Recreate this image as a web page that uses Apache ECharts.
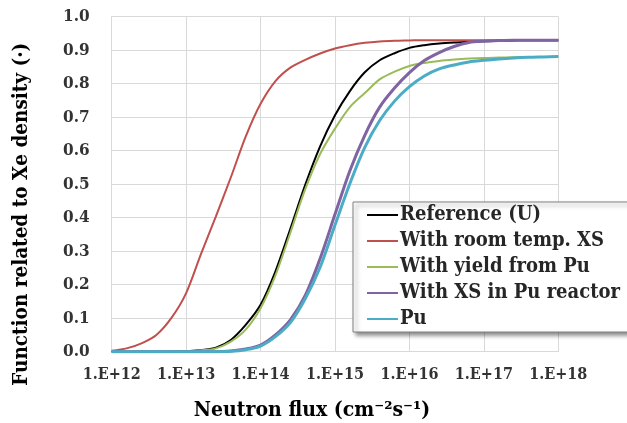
<!DOCTYPE html>
<html>
<head>
<meta charset="utf-8">
<script src="https://cdn.jsdelivr.net/npm/echarts@6/dist/echarts.min.js"></script>
<style>html,body{margin:0;padding:0;background:#fff}#c{width:627px;height:423px}</style>
</head>
<body>
<div id="c"></div>
<script>
// Neutron flux (cm^-2 s^-1), 0.2-decade steps from 1E+12 to 1E+18
const flux = [1e12,1.585e12,2.512e12,3.981e12,6.310e12,
  1e13,1.585e13,2.512e13,3.981e13,6.310e13,
  1e14,1.585e14,2.512e14,3.981e14,6.310e14,
  1e15,1.585e15,2.512e15,3.981e15,6.310e15,
  1e16,1.585e16,2.512e16,3.981e16,6.310e16,
  1e17,1.585e17,2.512e17,3.981e17,6.310e17,1e18];
const seriesNames = ['Reference (U)','With room temp. XS','With yield from Pu','With XS in Pu reactor','Pu'];
const refU = [0,0,0,0,0, 0.001,0.005,0.012,0.035,0.080, 0.140,0.240,0.367,0.498,0.613,
  0.706,0.778,0.834,0.870,0.891, 0.907,0.915,0.920,0.923,0.925, 0.927,0.928,0.929,0.930,0.930,0.930];
const roomXS = [0.003,0.010,0.025,0.050,0.100, 0.175,0.292,0.404,0.520,0.642, 0.740,0.808,0.848,0.871,0.890,
  0.905,0.915,0.922,0.926,0.928, 0.929,0.930,0.930,0.930,0.930, 0.930,0.930,0.930,0.930,0.930,0.930];
const yieldPu = [0,0,0,0,0, 0.001,0.004,0.010,0.030,0.066, 0.130,0.228,0.355,0.485,0.590,
  0.666,0.730,0.772,0.813,0.836, 0.853,0.862,0.868,0.872,0.875, 0.877,0.878,0.879,0.880,0.880,0.880];
const xsPuReactor = [0,0,0,0,0, 0,0,0,0.002,0.008, 0.020,0.050,0.095,0.168,0.278,
  0.410,0.540,0.646,0.730,0.787, 0.833,0.869,0.893,0.911,0.923, 0.927,0.929,0.930,0.930,0.930,0.930];
const pu = [0,0,0,0,0, 0,0,0,0.001,0.006, 0.017,0.045,0.087,0.158,0.252,
  0.378,0.502,0.610,0.690,0.748, 0.791,0.823,0.844,0.856,0.865, 0.870,0.874,0.877,0.879,0.880,0.881];
const colors = ['#000000','#c0504d','#9bbb59','#8064a2','#4bacc6'];
const widths = [2,2,2,3,3];
const values = [refU, roomXS, yieldPu, xsPuReactor, pu];

const FONT = '"DejaVu Serif Condensed","DejaVu Serif",serif';
const chart = echarts.init(document.getElementById('c'), null, {renderer:'canvas'});
chart.setOption({
  animation:false,
  backgroundColor:'#fff',
  grid:{left:111.7, right:68.7, top:16.7, bottom:71.3, containLabel:false, outerBoundsMode:'none'},
  xAxis:{
    type:'log', logBase:10, min:1e12, max:1e18,
    name:'Neutron flux (cm\u207B\u00B2s\u207B\u00B9)',
    nameLocation:'middle', nameGap:48,
    nameTextStyle:{fontFamily:FONT, fontWeight:'bold', fontSize:21, color:'#000', padding:[0,46,0,0]},
    axisLine:{show:true, lineStyle:{color:'#d9d9d9', width:1}},
    axisTick:{show:false},
    minorTick:{show:false},
    splitLine:{show:true, lineStyle:{color:'#d9d9d9', width:1}},
    axisLabel:{fontFamily:FONT, fontWeight:'bold', fontSize:16, color:'#333', margin:15,
      formatter:function(v){return '1.E+' + Math.round(Math.log10(v));}}
  },
  yAxis:{
    type:'value', min:0, max:1, interval:0.1,
    name:'Function related to Xe density (\u00B7)',
    nameLocation:'middle', nameGap:80,
    nameTextStyle:{fontFamily:FONT, fontWeight:'bold', fontSize:20.5, color:'#000', padding:[0,60,0,0]},
    axisLine:{show:true, lineStyle:{color:'#d9d9d9'}},
    axisTick:{show:false},
    splitLine:{show:true, lineStyle:{color:'#d9d9d9', width:1}},
    axisLabel:{fontFamily:FONT, fontWeight:'bold', fontSize:17, color:'#333', margin:22,
      formatter:function(v){return v.toFixed(1);}}
  },
  legend:{
    orient:'vertical', left:353, top:202,
    data:seriesNames,
    backgroundColor:'#fff', borderColor:'#808080', borderWidth:1,
    shadowColor:'rgba(0,0,0,0.45)', shadowBlur:4, shadowOffsetX:3, shadowOffsetY:3,
    padding:[3,40,3,14], itemGap:6, itemWidth:31, itemHeight:14,
    icon:'path://M0,6 L31,6 L31,8 L0,8 Z',
    textStyle:{fontFamily:FONT, fontWeight:'bold', fontSize:20, color:'#262626', lineHeight:20, padding:[0,0,0,-3]}
  },
  series: seriesNames.map(function(n,i){
    return {
      name:n, type:'line', symbol:'none', smooth:0.3,
      data: flux.map(function(f,j){return [f, values[i][j]];}),
      lineStyle:{color:colors[i], width:widths[i]},
      itemStyle:{color:colors[i]}
    };
  })
});
</script>
</body>
</html>
